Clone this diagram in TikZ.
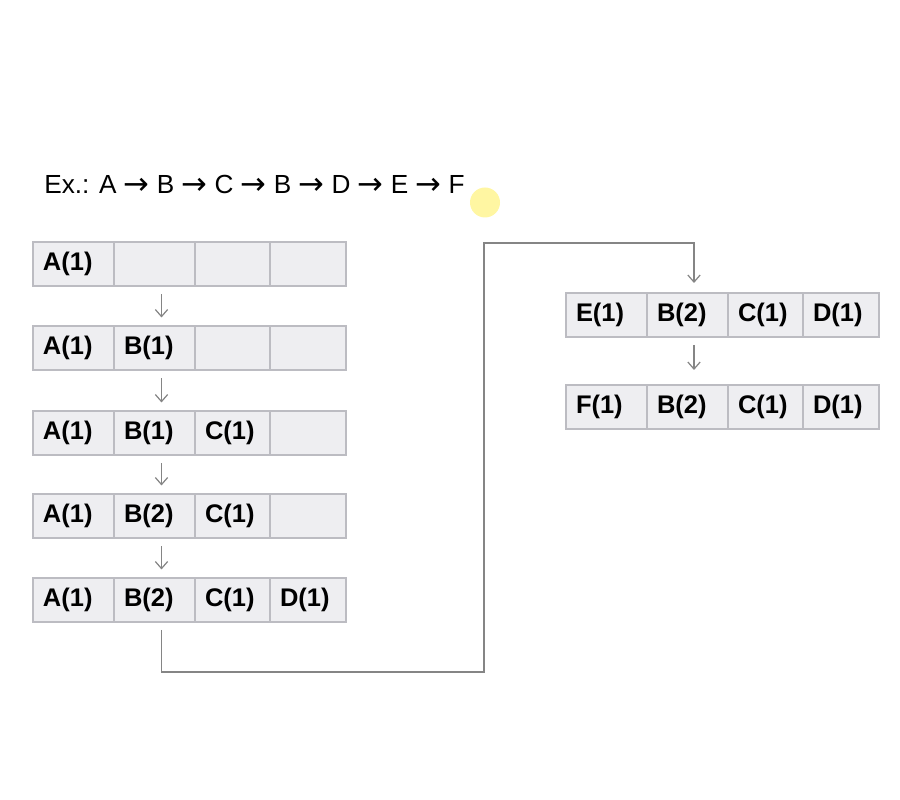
\documentclass[tikz,border=0pt]{standalone}
\usepackage{fontspec}
\setmainfont{Liberation Sans}
\newfontfamily\arrowfont{DejaVu Sans}
\usepackage{tikz}
\usetikzlibrary{arrows.meta, positioning}
\definecolor{cellfill}{HTML}{EEEEF1}
\definecolor{celledge}{HTML}{BCBCC2}
\definecolor{wire}{HTML}{858585}
\definecolor{marker}{HTML}{FFF27A}
\newcommand{\nxt}{ {\arrowfont\fontsize{17.5}{17.5}\selectfont\raisebox{-0.3pt}{→}} }

\begin{document}
\begin{tikzpicture}[
  cell/.style={rectangle, draw=celledge, fill=cellfill, line width=0.6pt,
               minimum height=0.88cm, inner ysep=0pt, inner xsep=0.2cm,
               outer sep=0pt, align=left,
               font=\fontsize{14.5}{16}\selectfont\bfseries},
  wa/.style={cell, text width=1.22cm},
  wb/.style={cell, text width=1.22cm},
  wc/.style={cell, text width=1.10cm},
  wd/.style={cell, text width=1.12cm},
  arr/.style={-{Straight Barb[length=4pt, width=7pt]}, wire, line width=0.7pt},
  title/.style={inner sep=0pt, anchor=west, font=\fontsize{14.9}{17}\selectfont},
  node distance=0pt
]
  \useasboundingbox (0,0) rectangle (18,-16);

  % mouse pointer highlight
  \fill[marker, opacity=0.7] (9.7,-4.05) circle (0.3);

  \node[title] (ex) at (0.88,-3.7) {Ex.: A\nxt B\nxt C\nxt B\nxt D\nxt E\nxt F};

  % left column
  \node[wa, anchor=west] (r1a) at (0.66,-5.28) {A(1)};
  \node[wb, right=of r1a] (r1b) {};
  \node[wc, right=of r1b] (r1c) {};
  \node[wd, right=of r1c] (r1d) {};

  \node[wa, anchor=west] (r2a) at (0.66,-6.96) {A(1)};
  \node[wb, right=of r2a] (r2b) {B(1)};
  \node[wc, right=of r2b] (r2c) {};
  \node[wd, right=of r2c] (r2d) {};

  \node[wa, anchor=west] (r3a) at (0.66,-8.66) {A(1)};
  \node[wb, right=of r3a] (r3b) {B(1)};
  \node[wc, right=of r3b] (r3c) {C(1)};
  \node[wd, right=of r3c] (r3d) {};

  \node[wa, anchor=west] (r4a) at (0.66,-10.32) {A(1)};
  \node[wb, right=of r4a] (r4b) {B(2)};
  \node[wc, right=of r4b] (r4c) {C(1)};
  \node[wd, right=of r4c] (r4d) {};

  \node[wa, anchor=west] (r5a) at (0.66,-12.0) {A(1)};
  \node[wb, right=of r5a] (r5b) {B(2)};
  \node[wc, right=of r5b] (r5c) {C(1)};
  \node[wd, right=of r5c] (r5d) {D(1)};

  % right column
  \node[wa, anchor=west] (r6a) at (11.32,-6.30) {E(1)};
  \node[wb, right=of r6a] (r6b) {B(2)};
  \node[wc, right=of r6b] (r6c) {C(1)};
  \node[wd, right=of r6c] (r6d) {D(1)};

  \node[wa, anchor=west] (r7a) at (11.32,-8.14) {F(1)};
  \node[wb, right=of r7a] (r7b) {B(2)};
  \node[wc, right=of r7b] (r7c) {C(1)};
  \node[wd, right=of r7c] (r7d) {D(1)};

  \coordinate (lo) at (9.68,-13.44);
  \coordinate (hi) at (9.68,-4.86);

  \draw[arr, shorten <=0.17cm, shorten >=0.17cm] ([xshift=0.14cm]r1b.south) -- ([xshift=0.14cm]r2b.north);
  \draw[arr, shorten <=0.17cm, shorten >=0.17cm] ([xshift=0.14cm]r2b.south) -- ([xshift=0.14cm]r3b.north);
  \draw[arr, shorten <=0.17cm, shorten >=0.17cm] ([xshift=0.14cm]r3b.south) -- ([xshift=0.14cm]r4b.north);
  \draw[arr, shorten <=0.17cm, shorten >=0.17cm] ([xshift=0.14cm]r4b.south) -- ([xshift=0.14cm]r5b.north);
  \draw[arr, shorten <=0.16cm, shorten >=0.2cm] ([xshift=0.14cm]r5b.south) |- (lo) -- (hi) -| ([xshift=0.13cm]r6b.north);
  \draw[arr, shorten <=0.16cm, shorten >=0.3cm] ([xshift=0.13cm]r6b.south) -- ([xshift=0.13cm]r7b.north);
\end{tikzpicture}
\end{document}
